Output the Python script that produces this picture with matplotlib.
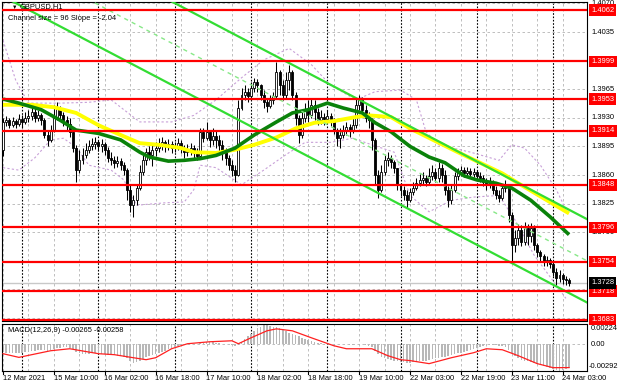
import numpy as np
import matplotlib
matplotlib.use('Agg')
import matplotlib.pyplot as plt
from matplotlib.transforms import blended_transform_factory

plt.rcParams['font.family'] = ['Liberation Sans', 'DejaVu Sans']
plt.rcParams['font.size'] = 5.4

# GBPUSD H1, 12 Mar 18:00 .. 24 Mar 05:00 (one entry per bar)
first_open = 1.3891
close = [1.3925, 1.3927, 1.3921, 1.3926, 1.3922, 1.3929, 1.3925, 1.3930, 1.3932, 1.3937,
         1.3930, 1.3933, 1.3927, 1.3909, 1.3903, 1.3915, 1.3930, 1.3942, 1.3933, 1.3927,
         1.3922, 1.3913, 1.3893, 1.3866, 1.3878, 1.3885, 1.3891, 1.3896, 1.3898, 1.3900,
         1.3896, 1.3898, 1.3891, 1.3881, 1.3878, 1.3875, 1.3877, 1.3872, 1.3866, 1.3842,
         1.3823, 1.3829, 1.3844, 1.3864, 1.3878, 1.3888, 1.3885, 1.3891, 1.3893, 1.3897,
         1.3900, 1.3896, 1.3898, 1.3893, 1.3896, 1.3899, 1.3893, 1.3888, 1.3891, 1.3893,
         1.3888, 1.3883, 1.3913, 1.3905, 1.3913, 1.3903, 1.3908, 1.3903, 1.3897, 1.3891,
         1.3881, 1.3872, 1.3866, 1.3860, 1.3942, 1.3958, 1.3962, 1.3957, 1.3967, 1.3974,
         1.3970, 1.3958, 1.3949, 1.3945, 1.3952, 1.3957, 1.3986, 1.3970, 1.3958, 1.3976,
         1.3986, 1.3958, 1.3930, 1.3909, 1.3930, 1.3940, 1.3933, 1.3946, 1.3937, 1.3927,
         1.3931, 1.3929, 1.3932, 1.3927, 1.3915, 1.3905, 1.3909, 1.3915, 1.3919, 1.3915,
         1.3921, 1.3946, 1.3952, 1.3940, 1.3930, 1.3927, 1.3903, 1.3860, 1.3842, 1.3864,
         1.3878, 1.3881, 1.3876, 1.3869, 1.3848, 1.3842, 1.3835, 1.3829, 1.3839, 1.3844,
         1.3850, 1.3854, 1.3856, 1.3851, 1.3859, 1.3864, 1.3856, 1.3869, 1.3860, 1.3842,
         1.3829, 1.3842, 1.3859, 1.3864, 1.3866, 1.3862, 1.3865, 1.3861, 1.3864, 1.3859,
         1.3856, 1.3851, 1.3848, 1.3851, 1.3842, 1.3835, 1.3832, 1.3844, 1.3847, 1.3811,
         1.3774, 1.3783, 1.3793, 1.3778, 1.3795, 1.3785, 1.3795, 1.3774, 1.3766, 1.3761,
         1.3754, 1.3756, 1.3751, 1.3741, 1.3734, 1.3738, 1.3733, 1.3731, 1.3728]
high = [1.3930, 1.3932, 1.3930, 1.3931, 1.3929, 1.3935, 1.3933, 1.3937, 1.3940, 1.3943,
        1.3942, 1.3940, 1.3936, 1.3930, 1.3915, 1.3921, 1.3946, 1.3949, 1.3945, 1.3937,
        1.3932, 1.3930, 1.3918, 1.3897, 1.3891, 1.3893, 1.3899, 1.3903, 1.3905, 1.3907,
        1.3903, 1.3904, 1.3900, 1.3894, 1.3888, 1.3883, 1.3883, 1.3881, 1.3876, 1.3869,
        1.3848, 1.3836, 1.3848, 1.3872, 1.3885, 1.3893, 1.3896, 1.3897, 1.3900, 1.3905,
        1.3907, 1.3903, 1.3904, 1.3902, 1.3900, 1.3905, 1.3903, 1.3897, 1.3898, 1.3899,
        1.3897, 1.3893, 1.3918, 1.3918, 1.3925, 1.3915, 1.3918, 1.3915, 1.3909, 1.3903,
        1.3893, 1.3885, 1.3878, 1.3872, 1.3952, 1.3967, 1.3970, 1.3967, 1.3974, 1.3979,
        1.3978, 1.3971, 1.3964, 1.3954, 1.3958, 1.3962, 1.3998, 1.3989, 1.3976, 1.3986,
        1.3995, 1.3989, 1.3962, 1.3933, 1.3937, 1.3948, 1.3952, 1.3954, 1.3952, 1.3942,
        1.3940, 1.3936, 1.3940, 1.3936, 1.3930, 1.3918, 1.3918, 1.3921, 1.3925, 1.3922,
        1.3930, 1.3954, 1.3958, 1.3956, 1.3946, 1.3937, 1.3930, 1.3905, 1.3866, 1.3872,
        1.3885, 1.3888, 1.3885, 1.3878, 1.3869, 1.3850, 1.3847, 1.3842, 1.3844, 1.3851,
        1.3856, 1.3861, 1.3864, 1.3860, 1.3869, 1.3872, 1.3869, 1.3876, 1.3874, 1.3866,
        1.3847, 1.3848, 1.3864, 1.3869, 1.3871, 1.3870, 1.3870, 1.3869, 1.3869, 1.3866,
        1.3864, 1.3860, 1.3856, 1.3858, 1.3854, 1.3847, 1.3842, 1.3849, 1.3854, 1.3849,
        1.3815, 1.3793, 1.3800, 1.3799, 1.3803, 1.3800, 1.3801, 1.3799, 1.3777, 1.3768,
        1.3763, 1.3761, 1.3758, 1.3754, 1.3746, 1.3744, 1.3740, 1.3736, 1.3734]
low = [1.3883, 1.3920, 1.3918, 1.3919, 1.3918, 1.3920, 1.3918, 1.3922, 1.3925, 1.3927,
       1.3925, 1.3926, 1.3921, 1.3905, 1.3896, 1.3900, 1.3913, 1.3927, 1.3927, 1.3920,
       1.3915, 1.3907, 1.3888, 1.3851, 1.3862, 1.3874, 1.3881, 1.3887, 1.3891, 1.3892,
       1.3889, 1.3888, 1.3885, 1.3876, 1.3872, 1.3869, 1.3870, 1.3866, 1.3860, 1.3829,
       1.3815, 1.3809, 1.3823, 1.3842, 1.3860, 1.3872, 1.3878, 1.3871, 1.3883, 1.3888,
       1.3891, 1.3888, 1.3891, 1.3887, 1.3888, 1.3891, 1.3887, 1.3881, 1.3883, 1.3885,
       1.3878, 1.3878, 1.3881, 1.3900, 1.3903, 1.3894, 1.3897, 1.3893, 1.3888, 1.3878,
       1.3872, 1.3866, 1.3859, 1.3851, 1.3859, 1.3940, 1.3952, 1.3949, 1.3954, 1.3962,
       1.3962, 1.3952, 1.3942, 1.3937, 1.3942, 1.3947, 1.3954, 1.3958, 1.3952, 1.3954,
       1.3964, 1.3952, 1.3921, 1.3899, 1.3905, 1.3925, 1.3925, 1.3930, 1.3927, 1.3921,
       1.3922, 1.3921, 1.3925, 1.3920, 1.3910, 1.3896, 1.3893, 1.3905, 1.3909, 1.3907,
       1.3911, 1.3918, 1.3940, 1.3933, 1.3925, 1.3918, 1.3891, 1.3848, 1.3832, 1.3839,
       1.3860, 1.3871, 1.3869, 1.3862, 1.3842, 1.3834, 1.3829, 1.3820, 1.3827, 1.3835,
       1.3842, 1.3847, 1.3848, 1.3847, 1.3849, 1.3854, 1.3851, 1.3851, 1.3851, 1.3835,
       1.3821, 1.3825, 1.3839, 1.3854, 1.3859, 1.3858, 1.3859, 1.3856, 1.3858, 1.3854,
       1.3851, 1.3847, 1.3842, 1.3844, 1.3837, 1.3831, 1.3827, 1.3829, 1.3839, 1.3803,
       1.3754, 1.3766, 1.3774, 1.3773, 1.3774, 1.3774, 1.3778, 1.3768, 1.3760, 1.3754,
       1.3749, 1.3749, 1.3746, 1.3736, 1.3725, 1.3729, 1.3727, 1.3725, 1.3724]

# moving averages (yellow = slow, green = fast), read at a few bars
ma_slow_bars = [0, 9, 16, 23, 30, 37, 43, 49, 56, 60, 67, 73, 79, 86, 92, 98, 104, 111, 115, 122, 128, 143, 157, 162, 178]
ma_slow = [1.3946, 1.3946, 1.3943, 1.3936, 1.3921, 1.3909, 1.3899, 1.3897, 1.3893, 1.3888, 1.3887, 1.3891, 1.3897,
           1.3906, 1.3917, 1.3924, 1.3926, 1.3931, 1.3933, 1.3931, 1.3917, 1.3888, 1.3862, 1.3850, 1.3813]
ma_fast_bars = [0, 5, 12, 18, 23, 30, 37, 43, 46, 52, 57, 62, 67, 73, 79, 86, 91, 96, 102, 107, 113, 117, 122,
                128, 134, 139, 145, 149, 155, 160, 166, 172, 178]
ma_fast = [1.3953, 1.3948, 1.3940, 1.3927, 1.3915, 1.3911, 1.3903, 1.3888, 1.3882, 1.3877, 1.3878, 1.3880, 1.3884,
           1.3893, 1.3909, 1.3925, 1.3936, 1.3940, 1.3948, 1.3942, 1.3936, 1.3924, 1.3913, 1.3895, 1.3882, 1.3875,
           1.3859, 1.3854, 1.3850, 1.3844, 1.3829, 1.3809, 1.3787]

# bollinger bands
bb_up_bars = [0, 4, 8, 18, 27, 34, 38, 43, 53, 60, 67, 75, 82, 90, 97, 103, 111, 117, 125, 130, 133, 137, 147, 156,
              160, 164, 169, 174, 177]
bb_up = [1.4025, 1.3976, 1.3948, 1.3948, 1.3949, 1.3952, 1.3940, 1.3925, 1.3925, 1.3933, 1.3952, 1.3979, 1.4001,
         1.4015, 1.3995, 1.3970, 1.3952, 1.3962, 1.3964, 1.3952, 1.3913, 1.3897, 1.3888, 1.3878, 1.3897, 1.3893,
         1.3872, 1.3842, 1.3818]
bb_low_bars = [0, 5, 10, 15, 19, 23, 27, 34, 38, 42, 51, 57, 60, 62, 67, 75, 82, 89, 95, 103, 110, 116, 123, 128,
               134, 141, 148, 156, 161, 167, 174, 177]
bb_low = [1.3869, 1.3866, 1.3881, 1.3903, 1.3905, 1.3894, 1.3872, 1.3866, 1.3854, 1.3823, 1.3826, 1.3827, 1.3842,
          1.3872, 1.3869, 1.3848, 1.3866, 1.3885, 1.3900, 1.3900, 1.3905, 1.3897, 1.3888, 1.3835, 1.3815, 1.3829,
          1.3833, 1.3835, 1.3805, 1.3762, 1.3725, 1.3709]

# regression channel: middle value at anchor bar, half width, slope per bar
chan_anchor = 128
chan_mid = 1.38685
chan_half = 0.0051
chan_slope = -0.000204

levels = [1.4062, 1.3999, 1.3953, 1.3914, 1.3848, 1.3796, 1.3754, 1.3718, 1.3683]
bid = 1.3728
price_ticks = [1.4070, 1.4035, 1.4000, 1.3965, 1.3930, 1.3895, 1.3860, 1.3825, 1.3790, 1.3755, 1.3720, 1.3685]
price_labels = ['1.4070', '1.4035', '1.3965', '1.3930', '1.3895', '1.3860', '1.3825', '1.3790']

# MACD(12,26,9) histogram, in 1e-4
macd_hist = [-8, -9, -9, -10, -9, -9,
             -9, -8, -8, -7, -7, -6, -6, -6, -7, -6, -5,
             -4, -4, -3, -3, -4, -5,
             -8, -10, -11, -11, -11, -10, -10, -11, -11,
             -11, -12, -12, -12, -13, -13, -14, -15,
             -19, -21, -20, -18,
             -16, -14, -13, -12,
             -11, -10, -8, -7, -5, -4, -3,
             -2, -1, 0, 1, 1, 1, 1,
             2, 2, 3, 3, 3, 2, 2, 1, 1, 0, -1,
             -2, -1,
             3, 6, 9, 12, 15, 18,
             20, 22, 22, 21, 20, 19, 18,
             16, 15, 13, 12, 10, 9, 7,
             6, 5, 4, 3, 2, 2, 1,
             1, 1, 0, 0, 1, 0, 0, -1, -1, 0, 1,
             0, -1, -2, -3,
             -7, -11, -14, -15, -16, -17, -18, -19, -20,
             -20, -21, -21, -20, -20, -19, -18, -18,
             -17, -16, -15, -15, -14, -14, -13, -12, -11, -10, -9, -8, -7,
             -6, -5, -4, -3, -2, -2, -1, -1, -1, -2,
             -2, -3,
             -6, -10, -13, -15, -17, -18, -19,
             -20, -21, -22, -23, -24, -25, -26, -27, -28, -29.2, -28.5, -27.5, -26.5]
sig_bars = [0, 5, 15, 21, 30, 35, 41, 45, 48, 53, 58, 65, 72, 74, 78, 83, 86, 91, 97, 104, 108, 116, 121, 125, 128,
            134, 141, 148, 152, 157, 162, 168, 173, 178]
sig = [-10.3, -14.4, -7, -4.8, -10.3, -11.4, -14.8, -17, -14.8, -4.8, 0.8, 3, 4.1, 0.8, 7.4, 15.2, 17.4, 15.2, 7.4,
       -1.4, -4.8, -4.8, -12.5, -17, -18, -21.4, -14.8, -9.2, -4.8, -5.9, -12.5, -21.4, -25.9, -25.8]
macd_labels = ['0.00224', '0.00', '-0.00292']

time_labels = ['12 Mar 2021', '15 Mar 10:00', '16 Mar 02:00', '16 Mar 18:00', '17 Mar 10:00', '18 Mar 02:00',
               '18 Mar 18:00', '19 Mar 10:00', '22 Mar 03:00', '22 Mar 19:00', '23 Mar 11:00', '24 Mar 03:00']
label_bars = [0, 16, 32, 48, 64, 80, 96, 112, 128, 144, 160, 176]
day_starts = [6, 30, 54, 78, 102, 125, 149, 173]

W, H = 620, 388
fig = plt.figure(figsize=(W / 100, H / 100), dpi=100)
ax = fig.add_axes([2 / W, 1 - 321 / H, 585 / W, 319 / H])
axm = fig.add_axes([2 / W, 1 - 371 / H, 585 / W, 47 / H])

close = np.array(close)
high = np.array(high)
low = np.array(low)
n = len(close)
bars = np.arange(n)
opens = np.r_[first_open, close[:-1]]

xl = (-1 / 3.18, 584 / 3.18)
for a in (ax, axm):
    a.set_xlim(*xl)
    a.set_xticks([])
    a.set_yticks([])
    for s in a.spines.values():
        s.set_linewidth(0.8)
    for b in range(0, n, 8):
        a.axvline(b, color='#b4b4b4', ls=(0, (3, 3)), lw=0.6, zorder=1)
    for d in day_starts:
        a.axvline(d, color='black', ls=(0, (1.5, 1.5)), lw=0.8, zorder=1)

ax.set_ylim(1.36813, 1.40718)
for p in price_ticks:
    ax.axhline(p, color='#b4b4b4', ls=(0, (3, 3)), lw=0.6, zorder=1)

# bands
ax.plot(bb_up_bars, bb_up, color='#c8a0d8', ls=(0, (2, 2)), lw=0.8, zorder=2)
ax.plot(bb_low_bars, bb_low, color='#c8a0d8', ls=(0, (2, 2)), lw=0.8, zorder=2)

ax.axhline(bid, color='#c8c8c8', lw=1.0, zorder=2)

# candles
up = close >= opens
ax.vlines(bars, low, high, color='black', lw=0.75, zorder=3)
ax.bar(bars[up], close[up] - opens[up], bottom=opens[up], width=0.62,
       color='white', edgecolor='black', linewidth=0.6, zorder=4)
ax.bar(bars[~up], close[~up] - opens[~up], bottom=opens[~up], width=0.62,
       color='black', edgecolor='black', linewidth=0.6, zorder=4)

ax.plot(ma_slow_bars, ma_slow, color='#ffff00', lw=2.8, zorder=5, solid_capstyle='butt')
ax.plot(ma_fast_bars, ma_fast, color='#0a820a', lw=2.6, zorder=5, solid_capstyle='butt')

# channel
cx = np.array([-2, 186])
cm = chan_mid + chan_slope * (cx - chan_anchor)
ax.plot(cx, cm + chan_half, color='#33dd33', lw=1.6, zorder=6)
ax.plot(cx, cm - chan_half, color='#33dd33', lw=1.6, zorder=6)
ax.plot(cx, cm, color='#88e888', ls=(0, (3, 3)), lw=1.0, zorder=6)

for lv in levels:
    ax.axhline(lv, color='#ff0000', lw=1.6, zorder=7)

# right price scale
tr = blended_transform_factory(ax.transAxes, ax.transData)
xr = (591 - 2) / 585
for t in price_labels:
    ax.text(xr, float(t), t, transform=tr, va='center', ha='left', clip_on=False)
for lv in levels:
    ax.text(xr, lv, f'{lv:.4f}', transform=tr, va='center', ha='left', color='white',
            clip_on=False, zorder=10, bbox=dict(boxstyle='square,pad=0.3', fc='#ff0000', ec='none'))
ax.text(xr, bid, f'{bid:.4f}', transform=tr, va='center', ha='left', color='white',
        clip_on=False, zorder=10, bbox=dict(boxstyle='square,pad=0.3', fc='black', ec='none'))

fig.text(12 / W, 1 - 7 / H, '▼', fontsize=4, va='center', ha='left')
fig.text(20 / W, 1 - 7 / H, 'GBPUSD,H1', va='center', ha='left')
fig.text(8 / W, 1 - 18 / H, 'Channel size = 96 Slope = -2.04', va='center', ha='left')

# MACD panel
hist = np.array(macd_hist) * 1e-4
axm.set_ylim(-0.00296, 0.00228)
axm.axhline(0, color='#b4b4b4', ls=(0, (3, 3)), lw=0.6, zorder=1)
axm.bar(bars, hist, width=0.5, color='#b8b8b8', zorder=2)
axm.plot(sig_bars, np.array(sig) * 1e-4, color='#ff2020', lw=0.9, zorder=3)
fig.text(8 / W, 1 - 330 / H, 'MACD(12,26,9) -0.00265 -0.00258', va='center', ha='left')
for ypx, t in zip([329, 345, 366], macd_labels):
    fig.text(591 / W if not t.startswith('-') else 589 / W, 1 - ypx / H, t, va='center', ha='left')

# time axis
trt = blended_transform_factory(axm.transData, axm.transAxes)
for b, t in zip(label_bars, time_labels):
    axm.plot([b, b], [0, -0.07], color='black', lw=0.8, transform=trt, clip_on=False)
    axm.text(b - 0.1, -0.15, t, transform=trt, va='center', ha='left')

fig.savefig('out.png', dpi=100)
